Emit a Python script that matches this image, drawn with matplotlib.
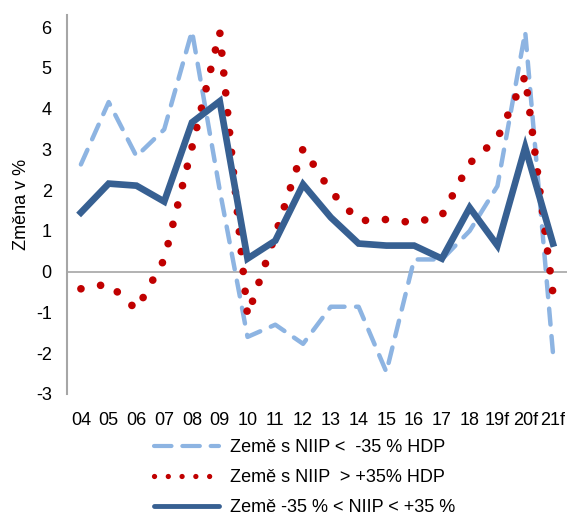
import numpy as np
import matplotlib
matplotlib.use('Agg')
import matplotlib.pyplot as plt
from matplotlib.lines import Line2D

plt.rcParams['font.family'] = ['Liberation Sans', 'DejaVu Sans']
plt.rcParams['axes.unicode_minus'] = False

years = ['04', '05', '06', '07', '08', '09', '10', '11', '12', '13', '14', '15',
         '16', '17', '18', '19f', '20f', '21f']
niip_low = [2.63, 4.16, 2.83, 3.49, 5.9, 2.0, -1.6, -1.3, -1.77, -0.86, -0.86, -2.46,
            0.3, 0.3, 1.0, 2.1, 5.88, -2.0]
niip_high = [-0.42, -0.3, -0.93, 0.3, 3.05, 5.88, -1.08, 0.9, 3.02, 1.97, 1.25, 1.28,
             1.2, 1.38, 2.66, 3.27, 4.8, -0.54]
niip_mid = [1.45, 2.16, 2.11, 1.72, 3.66, 4.18, 0.32, 0.76, 2.14, 1.33, 0.69, 0.64,
            0.64, 0.32, 1.57, 0.64, 3.05, 0.69]
labels = ['Země s NIIP <  -35 % HDP', 'Země s NIIP  > +35% HDP', 'Země -35 % < NIIP < +35 %']

fig = plt.figure(figsize=(5.68, 5.18), dpi=100)
ax = fig.add_axes([0.118, 0.2394, 0.88, 0.732])
x = np.arange(len(years))

ax.axhline(0, color='#a6a6a6', lw=1.2, zorder=1)
ax.plot(x, niip_low, color='#8db4e2', lw=3.2, linestyle=(0, (3.6, 2.6)),
        dash_capstyle='round', solid_joinstyle='round', zorder=2)
ax.plot(x, niip_high, color='#c00000', lw=5.5, linestyle=(0, (0.01, 2.6)),
        dash_capstyle='round', zorder=3)
ax.plot(x, niip_mid, color='#376092', lw=4.8, solid_joinstyle='miter', zorder=4)

ax.set_xlim(-0.5, len(years) - 0.5)
ax.set_ylim(-3, 6.3)
ax.set_yticks(range(-3, 7))
ax.set_xticks(x)
ax.set_xticklabels(years)
ax.tick_params(axis='both', length=0, labelsize=13)
ax.tick_params(axis='x', pad=13)
ax.tick_params(axis='y', pad=11)
for s in ['top', 'right', 'bottom']:
    ax.spines[s].set_visible(False)
ax.spines['left'].set_color('#a6a6a6')
ax.spines['left'].set_linewidth(1.5)
ax.set_ylabel('Změna v %', fontsize=13, labelpad=4)

# legend handles drawn thinner than the plotted lines, as in the original
h1 = Line2D([], [], color='#8db4e2', lw=3, linestyle=(0, (4.2, 2.6)), dash_capstyle='round')
h2 = Line2D([], [], color='#c00000', lw=3.8, linestyle=(0, (0.01, 2.6)), dash_capstyle='round')
h3 = Line2D([], [], color='#376092', lw=3.5, solid_capstyle='round')
fig.legend([h1, h2, h3], labels, loc='upper left', bbox_to_anchor=(0.255, 0.17),
           frameon=False, fontsize=13, handlelength=3.6, handletextpad=0.6,
           labelspacing=0.72, borderpad=0)

fig.savefig('out.png', dpi=100)
